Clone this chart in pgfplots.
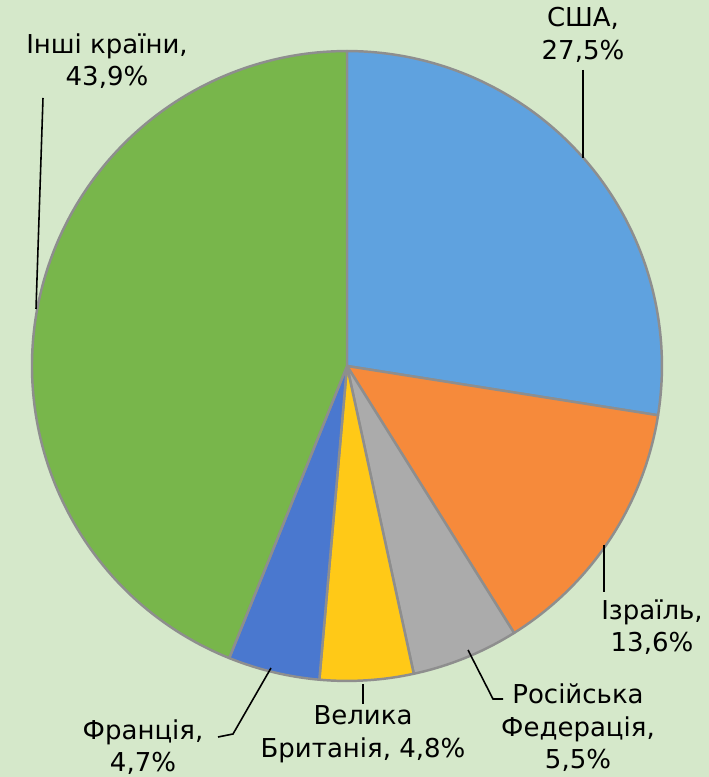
\documentclass[border=0pt]{standalone}
\usepackage{pgfplots}
\usepackage{pgfplotstable}
\pgfplotsset{compat=1.18}
\usepackage{fontspec}
\setmainfont{DejaVu Sans}

\definecolor{bg}{HTML}{D5E8CA}
\definecolor{edgegray}{HTML}{8E8E8E}
\definecolor{cUSA}{HTML}{5FA2DF}
\definecolor{cISR}{HTML}{F68A3B}
\definecolor{cRUS}{HTML}{ABABAB}
\definecolor{cGBR}{HTML}{FFC917}
\definecolor{cFRA}{HTML}{4A78CF}
\definecolor{cOTH}{HTML}{78B64B}

% shares in %, clockwise from 12 o'clock
\pgfplotstableread[col sep=comma]{
share,color
27.5,cUSA
13.6,cISR
5.5,cRUS
4.8,cGBR
4.7,cFRA
43.9,cOTH
}\piedata

\newcommand{\lbl}{\fontsize{14.8}{18.5}\selectfont}

\begin{document}
\begin{tikzpicture}
\begin{axis}[
    name=pie,
    x=0.02cm, y=0.02cm,
    xmin=0, xmax=709, ymin=0, ymax=777,
    hide axis,
    clip=false,
    axis background/.style={fill=bg},
]
\pgfplotsextra{
    \gdef\angstart{90}
    \pgfplotstablegetrowsof{\piedata}
    \pgfmathtruncatemacro\nrows{\pgfplotsretval-1}
    \foreach \i in {0,...,\nrows} {
        \pgfplotstablegetelem{\i}{share}\of\piedata
        \let\sh\pgfplotsretval
        \pgfplotstablegetelem{\i}{color}\of\piedata
        \let\col\pgfplotsretval
        \pgfmathsetmacro\aend{\angstart-3.6*\sh}
        \filldraw[fill=\col, draw=edgegray, line width=1.4pt, line join=round]
            (axis cs:347,411) -- ++(\angstart:6.3cm)
            arc[start angle=\angstart, end angle=\aend, radius=6.3cm] -- cycle;
        \xdef\angstart{\aend}
    }
}

% leader lines
\draw[black, line width=0.9pt] (axis cs:43,679) -- (axis cs:36,468);
\draw[black, line width=0.9pt] (axis cs:583,707) -- (axis cs:583,619);
\draw[black, line width=0.9pt] (axis cs:604,232) -- (axis cs:604,185);
\draw[black, line width=0.9pt] (axis cs:468,127) -- (axis cs:493,78) -- (axis cs:503,78);
\draw[black, line width=0.9pt] (axis cs:363,93) -- (axis cs:363,73);
\draw[black, line width=0.9pt] (axis cs:271,109) -- (axis cs:233,43) -- (axis cs:218,40);

% data labels
\node[align=center, font=\lbl] at (axis cs:107,716) {Інші країни,\\43,9\%};
\node[align=center, font=\lbl] at (axis cs:583,742) {США,\\27,5\%};
\node[align=center, font=\lbl] at (axis cs:652,150) {Ізраїль,\\13,6\%};
\node[align=center, font=\lbl] at (axis cs:578,49) {Російська\\Федерація,\\5,5\%};
\node[align=center, font=\lbl] at (axis cs:363,43) {Велика\\Британія, 4,8\%};
\node[align=center, font=\lbl] at (axis cs:143,30) {Франція,\\4,7\%};
\end{axis}
\pgfresetboundingbox
\path[use as bounding box] (pie.south west) rectangle (pie.north east);
\end{tikzpicture}
\end{document}
